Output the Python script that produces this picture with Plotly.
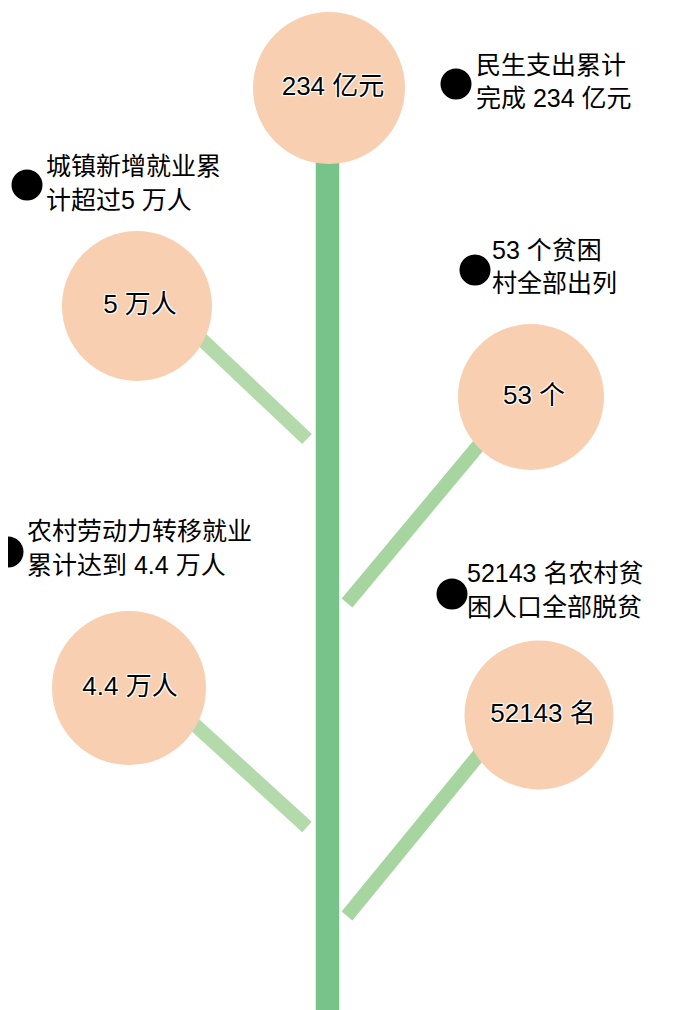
import plotly.graph_objects as go

# ---- data (text content) ----
circle_labels = ["234 亿元", "5 万人", "53 个", "4.4 万人", "52143 名"]
desc_line1 = ["民生支出累计", "城镇新增就业累", "53 个贫困", "农村劳动力转移就业", "52143 名农村贫"]
desc_line2 = ["完成 234 亿元", "计超过5 万人", "村全部出列", "累计达到 4.4 万人", "困人口全部脱贫"]

# ---- layout (positions in a 690x1010 pixel frame) ----
W, H = 690, 1010
OFF = 8  # page body margin compensation
circle_x = [329, 137, 531, 129, 539]
circle_y = [88, 306, 397, 688, 715]
circle_d = [152, 150, 146, 154, 149]
label_dx = [4, 3, 3, 1, 4]

trunk_x = [327.5, 327.5]
trunk_y = [160, 1030]

branch_x = [[159, 307], [509, 347], [160, 307], [509, 347]]
branch_y = [[299, 439], [409, 603], [693, 827], [718, 916]]
branch_col = ["#B4D9AB", "#A7D5A0", "#B4D9AB", "#A7D5A0"]

bullet_x = [456, 27, 475, 8, 452]
bullet_y = [84, 185, 270, 552, 594]
text_x = [476, 46, 492, 27, 467]
line1_y = [68, 169, 253, 534, 576]
line2_y = [101, 203, 286, 568, 610]

FONT = "Liberation Sans, Noto Sans CJK SC, sans-serif"
CIRCLE = "#F8CFB0"
DESC_SIZE = 25
LABEL_SIZE = 26

fig = go.Figure()

# trunk
fig.add_trace(go.Scatter(x=trunk_x, y=trunk_y, mode="lines",
                         line=dict(color="#78C38A", width=23.5),
                         hoverinfo="skip", showlegend=False))
# branches
for bx, by, bc in zip(branch_x, branch_y, branch_col):
    fig.add_trace(go.Scatter(x=bx, y=by, mode="lines",
                             line=dict(color=bc, width=14),
                             hoverinfo="skip", showlegend=False))
# circles
fig.add_trace(go.Scatter(x=circle_x, y=circle_y, mode="markers",
                         marker=dict(size=circle_d, color=CIRCLE, line=dict(width=0), opacity=1),
                         hoverinfo="skip", showlegend=False))
# circle labels
fig.add_trace(go.Scatter(x=[cx + d for cx, d in zip(circle_x, label_dx)], y=circle_y,
                         mode="text", text=circle_labels,
                         textposition="middle center",
                         textfont=dict(family=FONT, size=LABEL_SIZE, color="black",
                                       shadow="1px 1px 1px white, -1px -1px 1px white, 1px -1px 1px white, -1px 1px 1px white"),
                         hoverinfo="skip", showlegend=False))
# bullets
fig.add_trace(go.Scatter(x=bullet_x, y=bullet_y, mode="markers",
                         marker=dict(size=31, color="black", line=dict(width=0)),
                         hoverinfo="skip", showlegend=False))
# descriptions
fig.add_trace(go.Scatter(x=text_x, y=line1_y, mode="text", text=desc_line1,
                         textposition="middle right",
                         textfont=dict(family=FONT, size=DESC_SIZE, color="black"),
                         hoverinfo="skip", showlegend=False))
fig.add_trace(go.Scatter(x=text_x, y=line2_y, mode="text", text=desc_line2,
                         textposition="middle right",
                         textfont=dict(family=FONT, size=DESC_SIZE, color="black"),
                         hoverinfo="skip", showlegend=False))

fig.update_layout(
    width=W, height=H,
    margin=dict(l=0, r=0, t=0, b=0),
    paper_bgcolor="white", plot_bgcolor="white",
    xaxis=dict(range=[OFF, W + OFF], visible=False, fixedrange=True),
    yaxis=dict(range=[H + OFF, OFF], visible=False, fixedrange=True),
    showlegend=False,
)
fig.write_html("out.html")
